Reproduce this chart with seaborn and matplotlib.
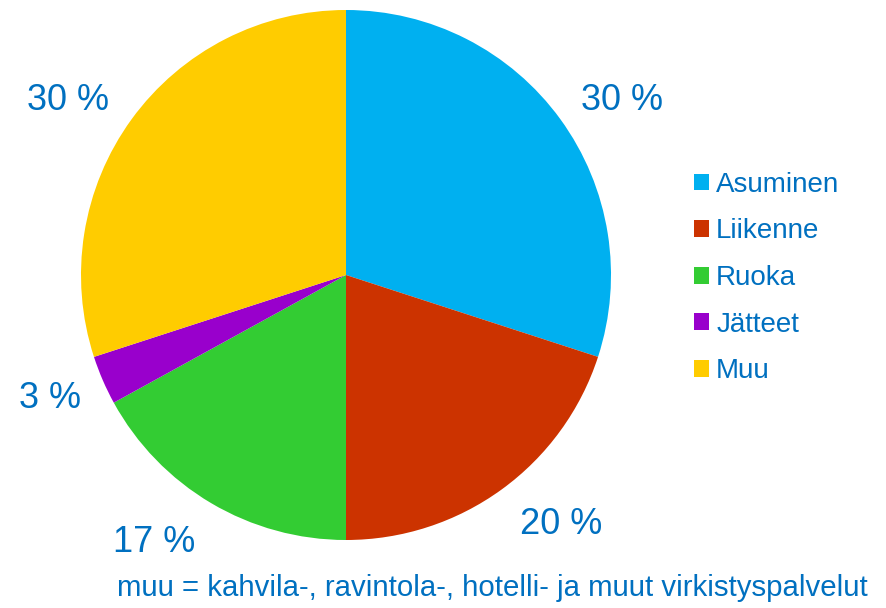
import matplotlib
matplotlib.use("Agg")
import matplotlib.pyplot as plt
import seaborn as sns

categories = ["Asuminen", "Liikenne", "Ruoka", "Jätteet", "Muu"]
values = [30, 20, 17, 3, 30]
labels = ["30 %", "20 %", "17 %", "3 %", "30 %"]
colors = ["#00B0F0", "#CC3300", "#33CC33", "#9900CC", "#FFCC00"]
footnote = "muu = kahvila-, ravintola-, hotelli- ja muut virkistyspalvelut"

# layout nudges for the percentage labels (pixels, x right / y up)
label_nudges = [(10, -19), (22, 16), (-25, 15), (6, 7), (-12, -19)]

sns.set_theme(style="white")
plt.rcParams['font.family'] = ['Liberation Sans', 'DejaVu Sans']
text_color = "#0070C0"

W, H = 887, 608
R_PX = 265
fig = plt.figure(figsize=(W / 100, H / 100), dpi=100)
ax = fig.add_axes([81 / W, 68 / H, 530 / W, 530 / H])

wedges, texts = ax.pie(values, labels=labels, colors=colors, startangle=90,
                       counterclock=False, labeldistance=1.24,
                       wedgeprops=dict(linewidth=0),
                       textprops=dict(color=text_color, fontsize=26))
for t, (dx, dy) in zip(texts, label_nudges):
    t.set_ha("center")
    t.set_va("center")
    x, y = t.get_position()
    t.set_position((x + dx / R_PX, y + dy / R_PX))
ax.set_xlim(-1, 1)
ax.set_ylim(-1, 1)
ax.set_aspect("equal")
ax.axis("off")

leg = fig.legend(wedges, categories, loc="upper left",
                 bbox_to_anchor=(680 / W, 1 - 158 / H), frameon=False,
                 fontsize=20, handlelength=0.55, handleheight=0.55,
                 handletextpad=0.25, labelspacing=0.74, borderpad=0)
for t in leg.get_texts():
    t.set_color(text_color)

fig.text(868 / W, 1 - 588 / H, footnote, ha="right", va="center",
         color=text_color, fontsize=21.2)

fig.savefig("out.png", dpi=100)
